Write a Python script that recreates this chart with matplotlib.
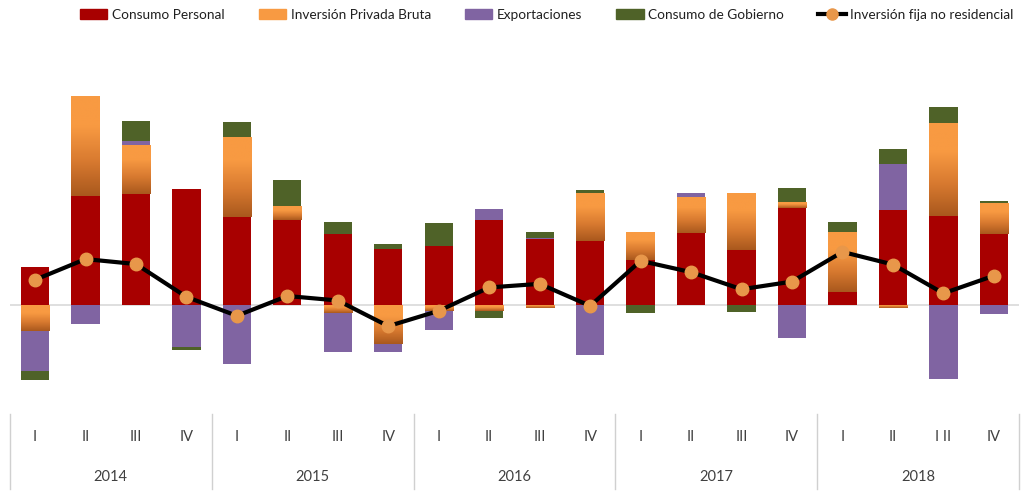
import matplotlib
matplotlib.use("Agg")
import matplotlib.pyplot as plt
import numpy as np
from matplotlib.colors import LinearSegmentedColormap
from matplotlib.lines import Line2D
from matplotlib.patches import Patch

plt.rcParams['font.family'] = ['Lato', 'DejaVu Sans']

years = ['2014', '2015', '2016', '2017', '2018']
quarters = ['I', 'II', 'III', 'IV', 'I', 'II', 'III', 'IV', 'I', 'II', 'III', 'IV',
            'I', 'II', 'III', 'IV', 'I', 'II', 'I II', 'IV']

consumo_personal = [0.84, 2.42, 2.46, 2.58, 1.95, 1.89, 1.57, 1.24, 1.32, 1.90,
                    1.46, 1.43, 0.99, 1.59, 1.23, 2.16, 0.29, 2.11, 1.98, 1.57]
inversion_privada = [-0.57, 2.22, 1.10, 0.00, 1.78, 0.30, -0.18, -0.87, -0.13, -0.13,
                     -0.07, 1.07, 0.64, 0.82, 1.25, 0.13, 1.33, -0.07, 2.06, 0.69]
exportaciones = [-0.89, -0.42, 0.09, -0.93, -1.31, 0.00, -0.86, -0.18, -0.42, 0.23,
                 0.04, -1.11, 0.00, 0.07, 0.02, -0.74, 0.00, 1.02, -1.65, -0.20]
consumo_gobierno = [-0.21, 0.00, 0.44, -0.06, 0.33, 0.58, 0.28, 0.11, 0.51, -0.15,
                    0.12, 0.05, -0.18, 0.00, -0.16, 0.32, 0.23, 0.33, 0.36, 0.06]
inversion_fija = [0.56, 1.02, 0.91, 0.18, -0.24, 0.20, 0.10, -0.47, -0.13, 0.39,
                  0.47, -0.02, 0.98, 0.73, 0.35, 0.52, 1.18, 0.90, 0.26, 0.65]

c_cp = '#A80000'
c_exp = '#8064A2'
c_gob = '#4F6228'
c_orange_top = '#F89A42'
c_orange_bot = '#A9581D'
c_line_marker = '#E8974A'

fig = plt.figure(figsize=(10.32, 4.91), dpi=100)
ax = fig.add_axes([0.0095, 1 - 400 / 491, 0.978, (400 - 40) / 491])

x = np.arange(len(quarters))
width = 0.56
pos_bottom = np.zeros(len(x))
neg_bottom = np.zeros(len(x))

cmap = LinearSegmentedColormap.from_list('og', [(0, c_orange_bot), (0.35, '#D87A30'),
                                                (0.7, c_orange_top), (1, c_orange_top)])
grad = np.linspace(0, 1, 256).reshape(-1, 1)

series = [(consumo_personal, c_cp, False), (inversion_privada, c_orange_top, True),
          (exportaciones, c_exp, False), (consumo_gobierno, c_gob, False)]
for vals, col, gradient in series:
    vals = np.array(vals)
    bottoms = np.where(vals >= 0, pos_bottom, neg_bottom)
    bars = ax.bar(x, vals, width, bottom=bottoms, color=col, zorder=2, linewidth=0)
    if gradient:
        for b, v in zip(bars, vals):
            if v == 0:
                continue
            b.set_facecolor('none')
            x0 = b.get_x()
            y0 = b.get_y()
            h = b.get_height()
            ylo, yhi = min(y0, y0 + h), max(y0, y0 + h)
            im = ax.imshow(grad, cmap=cmap, aspect='auto', origin='lower',
                           extent=[x0, x0 + b.get_width(), ylo, yhi], zorder=2)
            im.set_clip_path(b)
    pos_bottom = pos_bottom + np.where(vals >= 0, vals, 0)
    neg_bottom = neg_bottom + np.where(vals < 0, vals, 0)

ax.axhline(0, color='#D9D9D9', linewidth=1.2, zorder=1)
ax.plot(x, inversion_fija, color='black', linewidth=3, marker='o', markersize=9,
        markerfacecolor=c_line_marker, markeredgecolor=c_line_marker, zorder=4)

ax.set_xlim(-0.5, len(x) - 0.5)
ax.set_ylim((305 - 400) / 45, (305 - 40) / 45)
ax.axis('off')

# category axis
trans = matplotlib.transforms.blended_transform_factory(ax.transData, fig.transFigure)
for i, q in enumerate(quarters):
    ax.text(i, 1 - 437 / 491, q, transform=trans, ha='center', va='center',
            fontsize=10.5, color='#404040')
for k, yr in enumerate(years):
    ax.text(4 * k + 1.5, 1 - 477 / 491, yr, transform=trans, ha='center', va='center',
            fontsize=10.5, color='#404040')
for k in range(len(years) + 1):
    ax.add_line(Line2D([4 * k - 0.5, 4 * k - 0.5], [1 - 414 / 491, 1 - 489 / 491],
                       transform=trans, color='#D0D0D0', linewidth=1, clip_on=False))

handles = [Patch(color=c_cp), Patch(color=c_orange_top), Patch(color=c_exp),
           Patch(color=c_gob),
           Line2D([], [], color='black', linewidth=3, marker='o', markersize=8,
                  markerfacecolor=c_line_marker, markeredgecolor=c_line_marker)]
labels = ['Consumo Personal', 'Inversión Privada Bruta', 'Exportaciones',
          'Consumo de Gobierno', 'Inversión fija no residencial']
fig.legend(handles, labels, loc='center', bbox_to_anchor=(0.53, 1 - 15 / 491), ncol=5,
           frameon=False, fontsize=9.8, handlelength=2.0, handleheight=0.75,
           columnspacing=2.5, handletextpad=0.35, labelcolor='#202020')

fig.savefig('out.png', dpi=100)
